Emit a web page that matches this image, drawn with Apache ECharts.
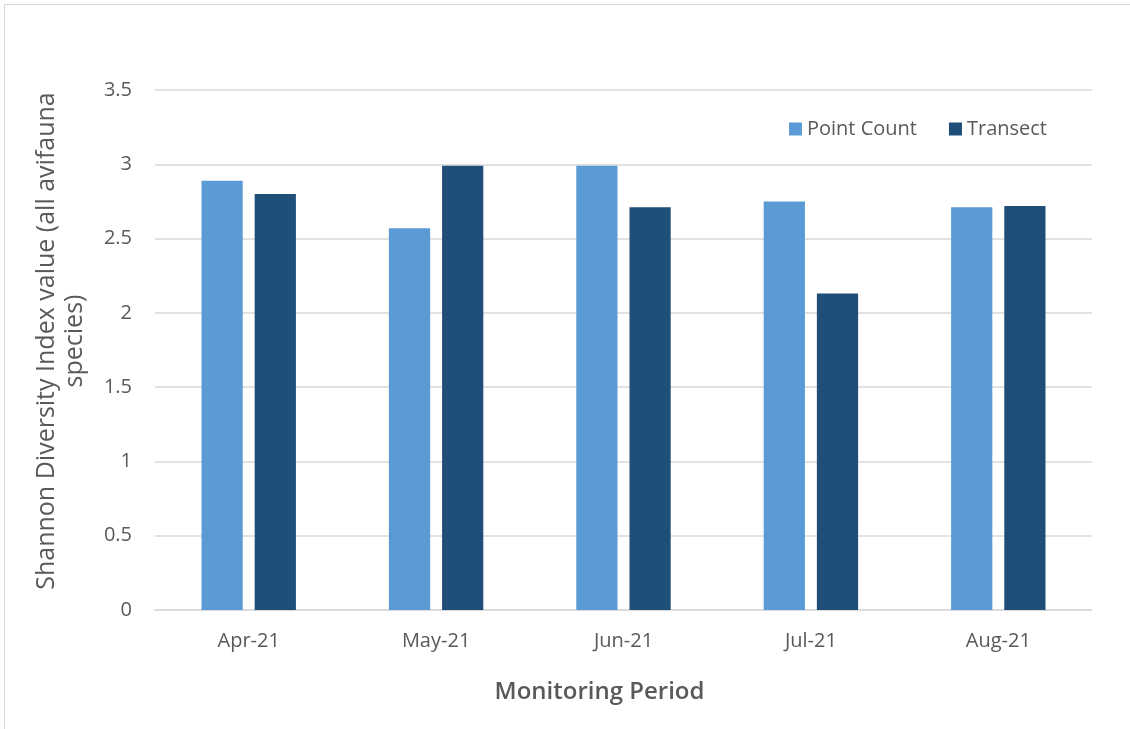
<!DOCTYPE html>
<html><head><meta charset="utf-8">
<script src="https://cdn.jsdelivr.net/npm/echarts@6/dist/echarts.min.js"></script>
<style>
html,body{margin:0;padding:0;background:#fff;}
#frame{position:absolute;left:4px;top:4px;width:1140px;height:740px;border:1px solid #d9d9d9;box-sizing:border-box;}
#chart{position:absolute;left:0;top:0;width:1130px;height:729px;}
</style></head>
<body>
<div id="frame"></div>
<div id="chart"></div>
<script>
const categories = ['Apr-21','May-21','Jun-21','Jul-21','Aug-21'];
const pointCount = [2.89, 2.57, 2.99, 2.75, 2.71];
const transect = [2.80, 2.99, 2.71, 2.13, 2.72];
const yTicks = {min:0, max:3.5, interval:0.5};

const chart = echarts.init(document.getElementById('chart'), null, {renderer:'canvas'});
const font = "'Open Sans', 'Noto Sans', sans-serif";
chart.setOption({
  animation:false,
  textStyle:{fontFamily:font},
  grid:{left:155, right:38, top:90, bottom:119, containLabel:false},
  legend:{
    data:['Point Count','Transect'],
    right:78, top:114, itemWidth:13, itemHeight:13, itemGap:32,
    icon:'rect',
    textStyle:{fontFamily:font, fontSize:20, color:'#595959'}
  },
  xAxis:{
    type:'category', data:categories,
    name:'Monitoring Period', nameLocation:'middle', nameGap:70,
    nameTextStyle:{fontFamily:font, fontSize:24, color:'#595959', fontWeight:600, padding:[0,48,0,0]},
    axisLine:{show:true, lineStyle:{color:'#d9d9d9', width:1.5}},
    axisTick:{show:false},
    axisLabel:{fontFamily:font, fontSize:20, color:'#595959', margin:21}
  },
  yAxis:{
    type:'value', min:yTicks.min, max:yTicks.max, interval:yTicks.interval,
    name:'Shannon Diversity Index value (all avifauna\nspecies)', nameLocation:'middle', nameGap:66,
    nameTextStyle:{fontFamily:font, fontSize:25, color:'#595959', lineHeight:28, align:'center', padding:[0,0,0,18]},
    axisLine:{show:false}, axisTick:{show:false},
    axisLabel:{fontFamily:font, fontSize:20, color:'#595959', margin:23},
    splitLine:{lineStyle:{color:'#d9d9d9', width:1.5}}
  },
  series:[
    {name:'Point Count', type:'bar', data:pointCount, barWidth:'22%', barGap:'29%',
     itemStyle:{color:'#5b9bd5'}},
    {name:'Transect', type:'bar', data:transect, barWidth:'22%',
     itemStyle:{color:'#1f4e79'}}
  ]
});
</script>
</body></html>
